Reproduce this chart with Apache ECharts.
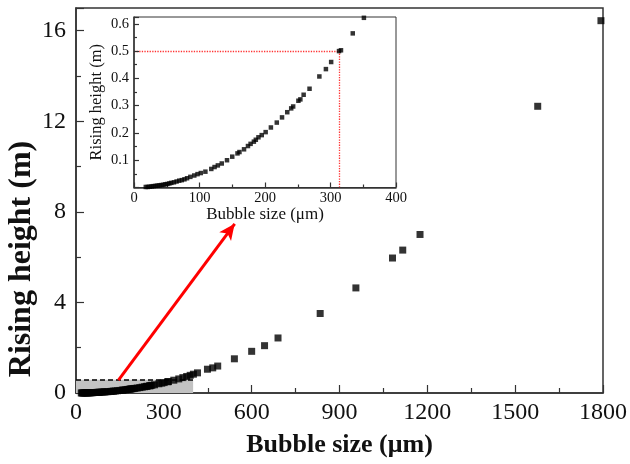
<!DOCTYPE html>
<html><head><meta charset="utf-8">
<script src="https://cdn.jsdelivr.net/npm/echarts@6/dist/echarts.min.js"></script>
<style>html,body{margin:0;padding:0;background:#fff}#c{width:630px;height:464px}</style>
</head><body><div id="c"></div>
<script>
// Bubble size (µm) and rising height (m)
const bubbleSize = [18,21,24,27,30,33,36,39,42,45,48,51,54,57,61,65,69,73,77,81,86,92,97,102,109,118,123,128,134,142,150,158,161,168,174,178,183,186,190,195,201,209,218,226,234,240,243,251,254,259,268,283,293,301,313,316,334,351,365,378,390,401,415,449,467,484,541,600,644,690,834,956,1081,1116,1175,1577,1793];
const risingHeight = [0.002,0.002,0.003,0.004,0.005,0.006,0.007,0.008,0.009,0.010,0.012,0.013,0.015,0.017,0.019,0.022,0.025,0.027,0.030,0.034,0.039,0.044,0.049,0.053,0.058,0.068,0.075,0.081,0.088,0.100,0.113,0.125,0.130,0.140,0.152,0.160,0.168,0.175,0.184,0.192,0.203,0.220,0.238,0.257,0.276,0.290,0.297,0.318,0.323,0.340,0.362,0.407,0.434,0.460,0.500,0.503,0.565,0.622,0.68,0.73,0.78,0.83,0.89,1.05,1.11,1.19,1.51,1.84,2.09,2.43,3.51,4.64,5.96,6.31,7.00,12.66,16.44];

// tick labels
const mainXTicks = [0,300,600,900,1200,1500,1800];
const mainYTicks = [0,4,8,12,16];
const insetXTicks = [0,100,200,300,400];
const insetYTicks = [0.1,0.2,0.3,0.4,0.5,0.6];

// annotation anchors (data units)
const zoomBoxCorner = [400, 0.58];
const arrowFrom = [145, 0.57];
const arrowTo = [542, 7.47];
const guidePoint = [313, 0.5];

const mainData = bubbleSize.map((x,i)=>[x, risingHeight[i]]);
const insetData = mainData.filter(d => d[0] <= 400);

const FONT = '"Liberation Serif","Times New Roman",serif';
const AX = '#333';
const plain = v => String(v);

function axisBase(fontSize, tickLen, minorLen, margin) {
  return {
    axisLine: {show: true, onZero: false, lineStyle: {color: AX, width: 1.5}},
    axisTick: {show: true, inside: true, length: tickLen, lineStyle: {color: AX, width: 1.2}},
    minorTick: {show: true, splitNumber: 2, length: minorLen, lineStyle: {color: AX, width: 1.2}},
    splitLine: {show: false},
    minorSplitLine: {show: false},
    axisLabel: {fontFamily: FONT, fontSize: fontSize, color: '#111', margin: margin, formatter: plain}
  };
}

const option = {
  animation: false,
  backgroundColor: '#fff',
  grid: [
    {left: 76, right: 27, top: 8, bottom: 71, show: true, borderColor: AX, borderWidth: 1.5, backgroundColor: 'transparent'},
    {left: 134, right: 234, top: 17, bottom: 276.5, show: true, borderColor: AX, borderWidth: 1, backgroundColor: '#fff', z: 5}
  ],
  xAxis: [
    Object.assign(axisBase(24, 8, 5, 8), {
      type: 'value', gridIndex: 0,
      min: mainXTicks[0], max: mainXTicks[mainXTicks.length-1],
      interval: mainXTicks[1]-mainXTicks[0],
      name: 'Bubble size (μm)', nameLocation: 'middle', nameGap: 39,
      nameTextStyle: {fontFamily: FONT, fontSize: 26, fontWeight: 'bold', color: '#111'}
    }),
    Object.assign(axisBase(14.5, 5, 3, 3), {
      type: 'value', gridIndex: 1, z: 6,
      min: insetXTicks[0], max: insetXTicks[insetXTicks.length-1],
      interval: insetXTicks[1]-insetXTicks[0],
      name: 'Bubble size (μm)', nameLocation: 'middle', nameGap: 18,
      nameTextStyle: {fontFamily: FONT, fontSize: 17, color: '#111'}
    })
  ],
  yAxis: [
    Object.assign(axisBase(24, 8, 5, 10), {
      type: 'value', gridIndex: 0,
      min: mainYTicks[0], max: 17,
      interval: mainYTicks[1]-mainYTicks[0]
    }),
    Object.assign(axisBase(14.5, 5, 3, 5), {
      type: 'value', gridIndex: 1, z: 6,
      min: 0, max: 0.625,
      interval: insetYTicks[1]-insetYTicks[0],
      name: 'Rising height (m)', nameLocation: 'middle', nameGap: 29,
      nameTextStyle: {fontFamily: FONT, fontSize: 16.5, color: '#111'}
    })
  ],
  graphic: [
    {type: 'text', z: 10, rotation: Math.PI/2, x: 22, y: 259,
     style: {text: 'Rising height (m)', font: 'bold 32px ' + FONT, fill: '#111', align: 'center', verticalAlign: 'middle'}}
  ],
  series: [
    {
      type: 'scatter', xAxisIndex: 0, yAxisIndex: 0, data: [], z: 1, silent: true,
      markArea: {silent: true, itemStyle: {color: '#c2c2c2'},
        data: [[{coord: [0, 0]}, {coord: zoomBoxCorner}]]},
      markLine: {silent: true, symbol: 'none', label: {show: false},
        lineStyle: {color: '#000', type: [5, 3], width: 1.5},
        data: [[{coord: [0, zoomBoxCorner[1]]}, {coord: zoomBoxCorner}]]}
    },
    {
      type: 'scatter', xAxisIndex: 0, yAxisIndex: 0, z: 2,
      symbol: 'rect', symbolSize: 7, itemStyle: {color: '#000'},
      data: mainData
    },
    {
      type: 'scatter', xAxisIndex: 0, yAxisIndex: 0, data: [], z: 3, silent: true,
      markLine: {silent: true, symbol: ['none', 'arrow'], symbolSize: [11, 16], label: {show: false},
        lineStyle: {color: '#ff0000', type: 'solid', width: 3},
        data: [[{coord: arrowFrom}, {coord: arrowTo}]]}
    },
    {
      type: 'scatter', xAxisIndex: 1, yAxisIndex: 1, data: [], z: 6, silent: true,
      itemStyle: {color: '#ff3333'},
      markLine: {silent: true, symbol: 'none', label: {show: false},
        itemStyle: {color: '#ff3333'},
        lineStyle: {color: '#ff3333', type: 'dotted', width: 1.3, opacity: 1},
        data: [
          [{coord: [0, guidePoint[1]]}, {coord: guidePoint}],
          [{coord: [guidePoint[0], 0]}, {coord: guidePoint}]
        ]}
    },
    {
      type: 'scatter', xAxisIndex: 1, yAxisIndex: 1, z: 7, clip: true,
      symbol: 'rect', symbolSize: 4.5, itemStyle: {color: '#000'},
      data: insetData
    }
  ]
};
option.yAxis[0].axisLabel.showMaxLabel = false;
option.yAxis[1].axisLabel.showMaxLabel = false;
option.yAxis[1].axisLabel.showMinLabel = false;

const chart = echarts.init(document.getElementById('c'), null, {renderer: 'canvas'});
chart.setOption(option);
</script>
</body></html>
